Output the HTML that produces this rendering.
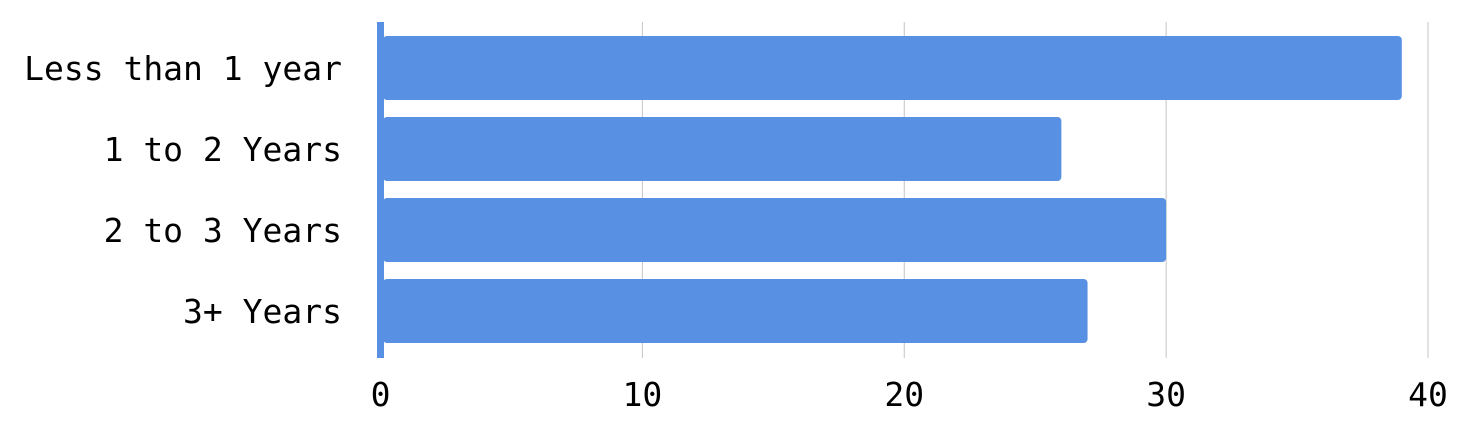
<!DOCTYPE html>
<html><head><meta charset="utf-8"><style>
body{margin:0;background:#fff;}
svg{display:block;}
text{font-family:"DejaVu Sans Mono","Liberation Mono",monospace;font-size:33px;fill:#000;}
</style></head><body>
<svg id="chart" width="1473" height="431" xmlns="http://www.w3.org/2000/svg"></svg>
<script>
const categories=["Less than 1 year","1 to 2 Years","2 to 3 Years","3+ Years"];
const values=[39,26,30,27];
const ticks=[0,10,20,30,40];
const svg=document.getElementById('chart');
const NS='http://www.w3.org/2000/svg';
const x0=380.5,x1=1428,vmax=40;
const xs=v=>x0+(x1-x0)*v/vmax;
const top0=36,step=81,bh=64;
function mk(t,a){const e=document.createElementNS(NS,t);for(const k in a)e.setAttribute(k,a[k]);svg.appendChild(e);return e;}
ticks.forEach((t,i)=>{
  if(t>0){const g=mk('line',{x1:xs(t),x2:xs(t),y1:22,y2:358,stroke:'#c4c4c4','stroke-width':1});
  
  }
  const tx=mk('text',{x:xs(t),y:406,'text-anchor':'middle'});tx.textContent=t;
  
  
});
categories.forEach((c,i)=>{
  const y=top0+i*step;
  const r=mk('rect',{x:383,y:y,width:xs(values[i])-383,height:bh,rx:4,fill:'#5891e3'});
  
  
  const tx=mk('text',{x:342,y:y+bh/2+12,'text-anchor':'end'});tx.textContent=c;
  
  
});
const ax=mk('rect',{x:377,y:22,width:7,height:336,fill:'#5891e3'});


</script>
</body></html>
